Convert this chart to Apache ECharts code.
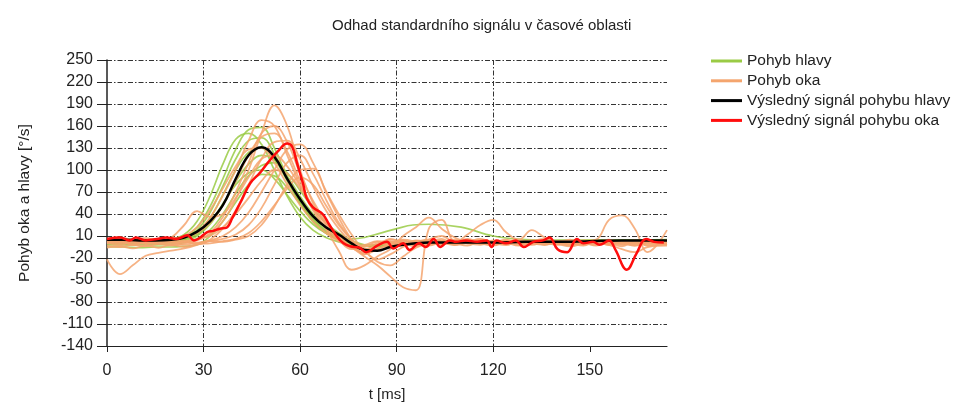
<!DOCTYPE html>
<html>
<head>
    <meta charset="UTF-8"/>
    <script type="text/javascript" src="https://cdn.jsdelivr.net/npm/echarts@6.0.0/dist/echarts.min.js"></script>
    <title>Odhad standardního signálu</title>
    <style>
        html, body { margin: 0; padding: 0; background: #fff; }
        #main { width: 957px; height: 407px; }
    </style>
</head>
<body>
<div id="main"></div>
<script type="text/javascript">
    // casove osy [ms]
    var tHead = [0, 5, 10, 15, 20, 24, 28, 32, 36, 40, 44, 48, 52, 56, 60, 64, 68, 72, 76, 80, 85, 90, 95, 100, 110, 120, 130, 140, 150, 160, 174]
    var tEye = [0, 4, 8, 12, 16, 20, 24, 28, 32, 36, 40,
        44, 48, 52, 56, 60, 64, 68, 72, 76, 80, 84,
        88, 92, 96, 100, 104, 108, 112, 116, 120, 124, 128,
        132, 136, 140, 144, 148, 152, 156, 160, 164, 168, 174]
    var tMeanHead = [0, 5, 10, 15, 20, 24, 28, 32, 36, 40, 44, 48, 52, 56, 60, 64, 68, 72, 76, 80, 84, 88, 92, 96, 100, 110, 120, 130, 140, 150, 160, 174]
    var tMeanEye = [0, 4, 7, 9, 12, 15.5, 18.5, 21.5, 25, 27, 29, 31, 33, 35, 37, 39, 41.5, 44.5, 47.5, 50, 53, 56, 57.5, 59,
        61, 62, 64, 67, 69, 71.5, 73.5, 75.5, 78.5, 80.5, 84, 87, 89, 92, 94, 97, 99, 101.5, 103.5, 106.5, 108.5,
        111.5, 115, 118, 119.5, 121, 124, 127, 129.5, 132.5, 135.5, 137.5, 140, 143, 146, 148, 151, 153, 156, 158,
        161.5, 164.5, 167.5, 170, 173]

    // pohyb hlavy - jednotlive zaznamy
    var head1 = [3, 3, 3, 3, 4, 8, 22, 50, 88, 128, 155, 158, 130, 90, 55, 30, 14, 5, 0, -3, -2, 0, 2, 3, 3, 3, 3, 3, 4, 4, 4]
    var head2 = [2, 2, 2, 2, 3, 6, 18, 42, 78, 115, 140, 144, 122, 88, 55, 30, 14, 5, -1, -4, -3, -1, 1, 2, 2, 3, 3, 3, 3, 4, 4]
    var head3 = [1, 1, 1, 1, 2, 5, 14, 34, 66, 100, 124, 130, 115, 85, 55, 32, 16, 6, 0, -3, -2, 0, 1, 2, 2, 2, 2, 3, 3, 3, 3]
    var head4 = [0, 0, 0, 0, 1, 3, 10, 26, 52, 84, 108, 120, 114, 92, 64, 40, 22, 10, 2, -3, -3, -1, 1, 1, 2, 2, 2, 2, 3, 3, 3]
    var head5 = [-2, -2, -2, -2, -1, 1, 6, 18, 40, 68, 92, 106, 110, 96, 72, 48, 28, 14, 4, -2, -4, -2, 0, 1, 1, 1, 2, 2, 2, 3, 3]
    var head6 = [2, 2, 2, 2, 3, 5, 12, 28, 54, 80, 96, 100, 88, 66, 44, 26, 14, 8, 6, 8, 14, 20, 25, 26, 22, 10, 5, 4, 4, 4, 4]
    var head7 = [-5, -5, -6, -5, -5, -4, -2, 10, 30, 56, 80, 94, 92, 76, 54, 34, 18, 8, 1, -4, -5, -3, -1, 0, 1, 1, 1, 2, 2, 2, 2]
    var head8 = [4, 4, 4, 4, 6, 12, 30, 64, 108, 142, 150, 135, 100, 64, 36, 18, 8, 2, -2, -4, -2, 0, 2, 3, 3, 3, 3, 4, 4, 4, 5]

    // pohyb oka - jednotlive zaznamy
    var eye1 = [2, 0, 3, 1, 4, 2, 3, 5, 12, 30, 60, 100, 150, 188, 160, 100, 55, 25, 5, -8, -5, 2,
        -3, 4, 0, 3, -1, 2, 0, 3, 1, -2, 2, 0, 3, -1, 2, 0, 3, 1, -2, 2, 0, 1]
    var eye2 = [-3, -5, -2, -4, -1, -3, 0, 4, 14, 36, 70, 110, 150, 160, 138, 95, 58, 30, 10, -6, -12, -4,
        2, -2, 3, 0, 4, -1, 2, 5, 0, 3, -2, 2, 0, 3, -2, 1, -3, 2, 0, -3, 1, -2]
    var eye3 = [-22, -42, -30, -17, -13, -10, -7, -2, 5, 20, 45, 80, 115, 138, 140, 115, 78, 45, 20, 0, -15, -8,
        0, 5, 2, -3, 2, 5, 0, -2, 3, 1, -3, 0, 2, -1, -4, 0, 2, -2, 1, -1, 3, 0]
    var eye4 = [5, 3, 6, 2, 4, 8, 25, 44, 36, 40, 62, 90, 115, 120, 105, 78, 50, 28, 12, 2, -4, 0,
        5, 2, -2, 3, 0, 2, 6, 1, -2, 2, 0, 4, 1, -2, 3, 0, 2, -1, 3, 0, 2, 3]
    var eye5 = [0, 2, -1, 3, 0, 2, -2, 1, 4, 10, 22, 42, 70, 100, 128, 135, 110, 72, 40, 12, -10, -22,
        -15, -5, 2, -2, 3, 0, -3, 2, 0, 4, 1, -2, 2, 0, -3, 2, 0, 3, -1, 2, -2, 0]
    var eye6 = [3, 1, 4, 0, 2, 5, 3, 6, 10, 22, 40, 62, 85, 100, 95, 75, 50, 28, 10, -5, -18, -30,
        -45, -60, -64, 20, 32, 3, 5, 0, 3, -1, 2, 0, 3, -1, 2, 0, 1, -2, 2, 0, 1, 1]
    var eye7 = [6, 8, 5, 7, 4, 6, 9, 14, 28, 52, 85, 120, 145, 150, 125, 85, 48, 20, -10, -36, -30, -18,
        -8, 10, 22, 35, 20, 8, 3, 6, 2, 5, 0, 3, 6, 2, 0, 4, 2, 5, 1, 4, 2, 4]
    var eye8 = [-6, -4, -7, -3, -6, -2, -5, -1, 0, 3, 6, 14, 30, 52, 75, 90, 80, 52, 25, 5, -8, -4,
        6, 0, -4, 5, 10, 2, 12, 25, 32, 15, 5, 18, 8, 2, 5, -2, 3, 0, -4, 2, -3, -1]
    var eye9 = [4, 2, 5, 3, 6, 4, 8, 16, 35, 65, 100, 140, 168, 160, 120, 80, 45, 20, 4, -6, -8, -2,
        3, -1, 4, 1, -2, 3, 0, 4, 2, -1, 3, 1, 4, 0, -2, 3, 5, 32, 38, 20, -12, 18]
    var eye10 = [1, -2, 2, -1, 1, -2, 2, 0, 3, 2, 5, 10, 25, 50, 80, 100, 102, 70, 35, 5, -14, -8,
        -2, 4, -3, 2, 6, -2, 3, 0, -3, 2, 5, 0, -2, 3, 1, -3, 2, -2, -8, -12, -5, -3]
    var eye11 = [2, 4, 1, 5, 3, 6, 10, 22, 45, 75, 105, 128, 130, 110, 80, 52, 30, 14, 3, -4, -2, 3,
        0, -3, 2, 5, 1, -2, 2, 0, 4, -1, 2, 4, -2, 1, 3, -1, 2, 0, 3, -1, 2, 1]
    var eye12 = [0, 3, -2, 1, 4, 0, 2, -1, 3, 6, 12, 25, 48, 80, 110, 120, 95, 60, 28, 5, -10, -25,
        -30, -18, -6, 0, 3, -2, 1, 4, 0, -2, 3, 1, -1, 2, 4, 0, -2, 3, 1, -3, 2, 0]

    // vysledne signaly
    var meanHead = [5, 5, 4, 4, 5, 8, 16, 30, 52, 88, 120, 131, 118, 88, 60, 37, 22, 12, 0, -9, -10, -5, -2, 0, 1, 1, 1, 2, 2, 3, 4, 4]
    var meanEye = [6, 8, 4, 8, 4, 6, 8, 6, 11, 4, 8, 15, 17, 20, 21, 35, 56, 82, 96, 110, 125, 136, 132, 110,
        80, 62, 49, 40, 26, 9, 0, -4, -6, -12, -3, 2, -7, 0, -9, 0, -5, 6, -5, 4, 2,
        4, 2, 4, -5, 4, 0, 4, -5, 2, 4, 8, -8, -12, 6, 0, 2, -2, 4, -9,
        -36, -14, 6, 2, 1]

    var xTicks = [0, 30, 60, 90, 120, 150]
    var legendNames = ['Pohyb hlavy', 'Pohyb oka', 'Výsledný signál pohybu hlavy', 'Výsledný signál pohybu oka']

    var headTrials = [head1, head2, head3, head4, head5, head6, head7, head8]
    var eyeTrials = [eye1, eye2, eye3, eye4, eye5, eye6, eye7, eye8, eye9, eye10, eye11, eye12]

    var fontName = "'Liberation Sans', Arial, sans-serif"
    var gridDash = [5, 2, 1.5, 2]

    function pairs(ts, vs) {
        return ts.map(function (t, i) { return [t, vs[i]]; });
    }

    function lineSeries(name, data, color, width, opacity) {
        return {
            name: name,
            type: 'line',
            data: data,
            smooth: 0.4,
            symbol: 'none',
            color: color,
            lineStyle: {color: color, width: width, opacity: opacity},
            emphasis: {disabled: true}
        };
    }

    var series = []
    headTrials.forEach(function (d) {
        series.push(lineSeries(legendNames[0], pairs(tHead, d), '#9ACB45', 1.7, 0.85));
    });
    eyeTrials.forEach(function (d) {
        series.push(lineSeries(legendNames[1], pairs(tEye, d), '#F4A56E', 1.8, 0.85));
    });
    series.push(lineSeries(legendNames[2], pairs(tMeanHead, meanHead), '#000000', 2.5, 1));
    series.push(lineSeries(legendNames[3], pairs(tMeanEye, meanEye), '#FF0D0D', 2.5, 1));

    var option = {
        animation: false,
        backgroundColor: '#fff',
        textStyle: {fontFamily: fontName},
        title: {
            text: 'Odhad standardního signálu v časové oblasti',
            left: 327,
            top: 13,
            textStyle: {fontSize: 15, fontWeight: 'normal', color: '#222', fontFamily: fontName}
        },
        legend: {
            orient: 'vertical',
            left: 706,
            top: 48,
            icon: 'rect',
            itemWidth: 31,
            itemHeight: 3,
            itemGap: 3.8,
            itemTextGap: 7,
            data: legendNames,
            textStyle: {fontSize: 15.5, color: '#222', lineHeight: 16, fontFamily: fontName}
        },
        grid: {left: 107, right: 290, top: 60, bottom: 57, containLabel: false},
        xAxis: {
            type: 'value',
            min: 0,
            max: 174,
            interval: 30,
            name: 't [ms]',
            nameLocation: 'middle',
            nameGap: 41,
            nameTextStyle: {fontSize: 15, color: '#222'},
            axisLine: {show: true, onZero: false, lineStyle: {color: '#222', width: 1.2}},
            axisTick: {show: true, length: 6, customValues: xTicks, lineStyle: {color: '#222'}},
            axisLabel: {customValues: xTicks, fontSize: 16, color: '#222', margin: 17},
            splitLine: {
                show: true, showMinLine: false, showMaxLine: false,
                lineStyle: {color: '#333', width: 1, type: gridDash}
            }
        },
        yAxis: {
            type: 'value',
            min: -140,
            max: 250,
            interval: 30,
            name: 'Pohyb oka a hlavy [°/s]',
            nameLocation: 'middle',
            nameGap: 74,
            nameTextStyle: {fontSize: 15.5, color: '#222'},
            axisLine: {show: true, lineStyle: {color: '#222', width: 1.5}},
            axisTick: {show: true, length: 10, lineStyle: {color: '#222'}},
            axisLabel: {fontSize: 16, color: '#222', margin: 14},
            splitLine: {
                show: true, showMinLine: false,
                lineStyle: {color: '#333', width: 1, type: gridDash}
            }
        },
        series: series
    };

    var myChart = echarts.init(document.getElementById('main'));
    myChart.setOption(option);
</script>
</body>
</html>
